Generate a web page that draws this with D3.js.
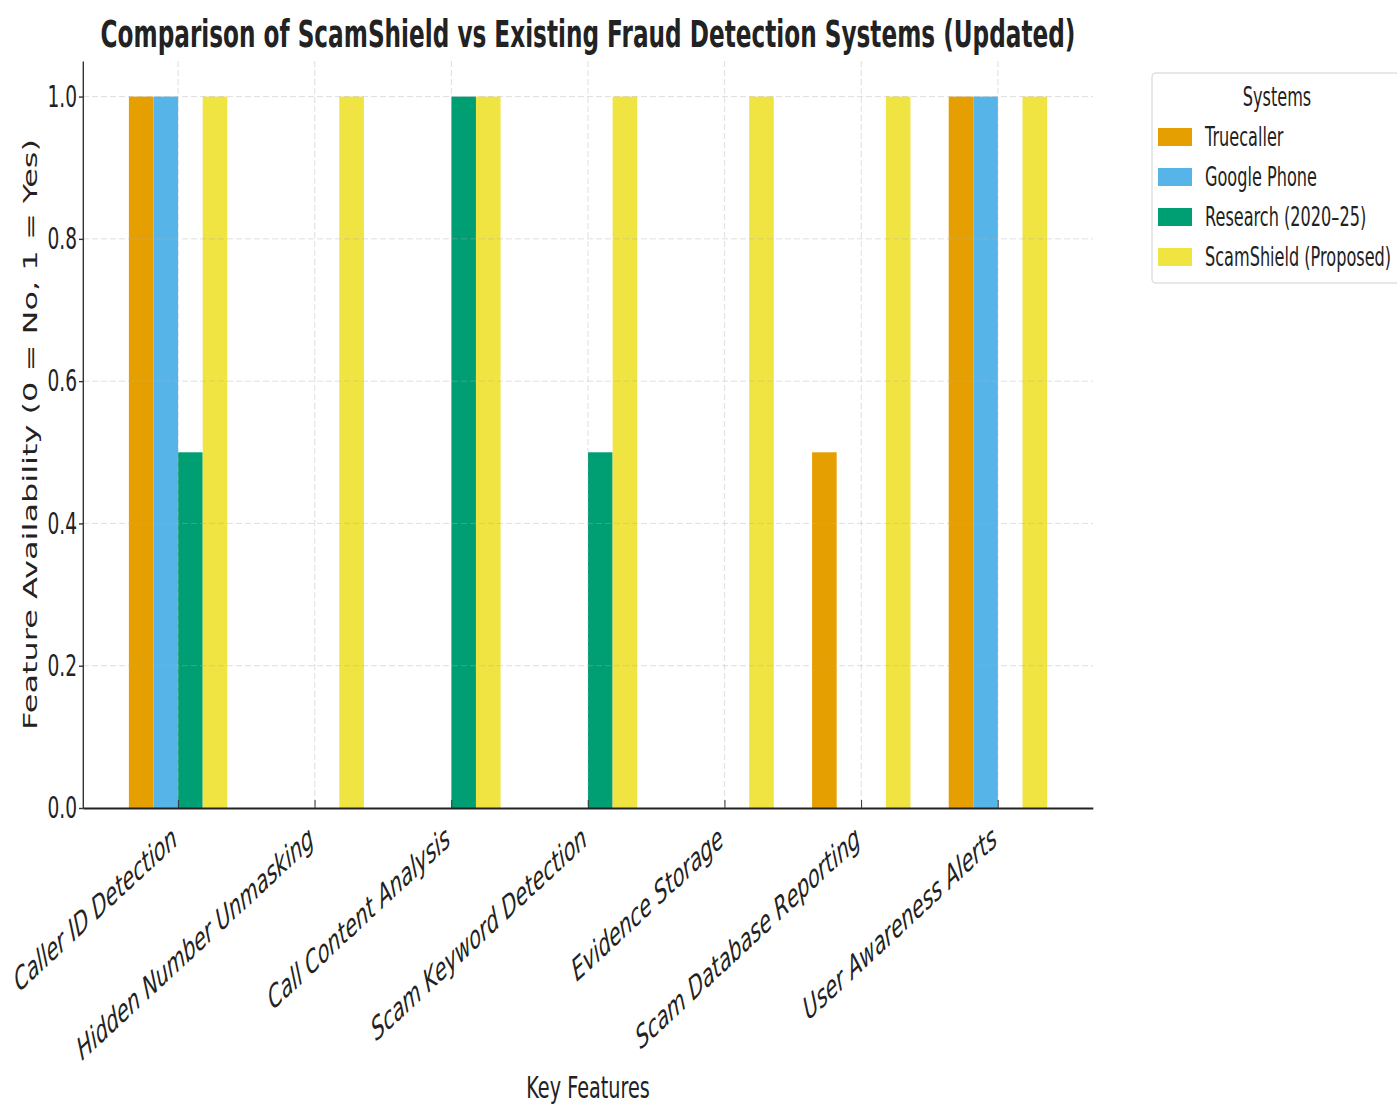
<!DOCTYPE html>
<html>
<head>
<meta charset="utf-8">
<script src="https://cdn.jsdelivr.net/npm/d3@7"></script>
<style>
  body { margin: 0; background: #fff; }
  svg text { font-family: "DejaVu Sans", sans-serif; fill: #222; }
</style>
</head>
<body>
<div id="chart"></div>
<script>
// Data
const features = [
    "Caller ID Detection",
    "Hidden Number Unmasking",
    "Call Content Analysis",
    "Scam Keyword Detection",
    "Evidence Storage",
    "Scam Database Reporting",
    "User Awareness Alerts"
];
const systems = ["Truecaller", "Google Phone", "Research (2020–25)", "ScamShield (Proposed)"];
const colors = ["#E69F00", "#56B4E9", "#009E73", "#F0E442"];

const truecaller  = [1, 0, 0, 0, 0, 0.5, 1];
const googlePhone = [1, 0, 0, 0, 0, 0, 1];
const research    = [0.5, 0, 1, 0.5, 0, 0, 0];
const scamShield  = [1, 1, 1, 1, 1, 1, 1];
const series = [truecaller, googlePhone, research, scamShield];

const yTicks = [0, 0.2, 0.4, 0.6, 0.8, 1.0];

// The reference is squeezed horizontally, so everything is drawn
// in a wider frame and scaled down in x
const W = 1397, H = 1106;
const sx = 0.62;
const vx = px => px / sx;

const plotLeft = 83, plotRight = 1093, plotTop = 61, plotBottom = 808;
const barW = 0.18;
const n = features.length;
const span = (n - 1) + 4 * barW;
const pad = 0.05 * span;

const x = d3.scaleLinear()
    .domain([-2 * barW - pad, (n - 1) + 2 * barW + pad])
    .range([vx(plotLeft), vx(plotRight)]);

const y = d3.scaleLinear()
    .domain([0, 1.05])
    .range([plotBottom, plotTop]);

const svg = d3.select("#chart")
    .append("svg")
    .attr("width", W)
    .attr("height", H);

svg.append("rect").attr("width", W).attr("height", H).attr("fill", "#fff");

const g = svg.append("g").attr("transform", `scale(${sx}, 1)`);

// bars
series.forEach((vals, k) => {
    g.append("g")
        .selectAll("rect")
        .data(vals)
        .join("rect")
            .attr("x", (d, i) => x(i + (k - 2) * barW))
            .attr("width", x(barW) - x(0))
            .attr("y", d => y(d))
            .attr("height", d => y(0) - y(d))
            .attr("fill", colors[k]);
});

// grid (drawn above bars, faint)
const grid = g.append("g")
    .attr("stroke", "#b0b0b0")
    .attr("stroke-opacity", 0.4)
    .attr("stroke-dasharray", "6,3");

grid.selectAll(".hg")
    .data(yTicks.slice(1))
    .join("line")
        .attr("x1", vx(plotLeft)).attr("x2", vx(plotRight))
        .attr("y1", d => y(d)).attr("y2", d => y(d))
        .attr("vector-effect", "non-scaling-stroke");

grid.selectAll(".vg")
    .data(d3.range(n))
    .join("line")
        .attr("x1", d => x(d)).attr("x2", d => x(d))
        .attr("y1", plotTop).attr("y2", plotBottom)
        .attr("vector-effect", "non-scaling-stroke");

// y axis
const yAxis = g.append("g")
    .attr("transform", `translate(${vx(plotLeft)}, 0)`)
    .call(d3.axisLeft(y)
        .tickValues(yTicks)
        .tickFormat(d3.format(".1f"))
        .tickSizeInner(vx(4))
        .tickSizeOuter(0)
        .tickPadding(vx(2)));

yAxis.selectAll("path, line")
    .attr("stroke", "#333")
    .attr("stroke-width", 1.4)
    .attr("vector-effect", "non-scaling-stroke");
yAxis.selectAll("text")
    .attr("font-family", "DejaVu Sans")
    .attr("font-size", 30)
    .attr("fill", "#333");

// x axis
const xAxis = g.append("g")
    .attr("transform", `translate(0, ${plotBottom})`)
    .call(d3.axisBottom(x)
        .tickValues(d3.range(n))
        .tickFormat(i => features[i])
        .tickSizeInner(-8)
        .tickSizeOuter(0));

xAxis.select(".domain")
    .attr("stroke", "#222")
    .attr("stroke-width", 2);
xAxis.selectAll(".tick line")
    .attr("stroke", "#333")
    .attr("vector-effect", "non-scaling-stroke");
xAxis.selectAll("text")
    .attr("font-family", "DejaVu Sans")
    .attr("font-style", "italic")
    .attr("font-size", 31.5)
    .attr("fill", "#333")
    .attr("text-anchor", "end")
    .attr("x", 0)
    .attr("y", 0)
    .attr("dy", 0)
    .attr("transform", "translate(0, 36) rotate(-30)");

// axis titles
g.append("text")
    .attr("x", (x.range()[0] + x.range()[1]) / 2)
    .attr("y", 1098)
    .attr("text-anchor", "middle")
    .attr("font-size", 31)
    .text("Key Features");

g.append("text")
    .attr("transform", `translate(${vx(37)}, ${(plotTop + plotBottom) / 2}) rotate(-90)`)
    .attr("text-anchor", "middle")
    .attr("font-size", 32)
    .text("Feature Availability (0 = No, 1 = Yes)");

g.append("text")
    .attr("x", (x.range()[0] + x.range()[1]) / 2)
    .attr("y", 47)
    .attr("text-anchor", "middle")
    .attr("font-size", 37.4)
    .attr("font-weight", "bold")
    .text("Comparison of ScamShield vs Existing Fraud Detection Systems (Updated)");

// legend
const legend = g.append("g");
legend.append("rect")
    .attr("x", vx(1152)).attr("y", 73)
    .attr("width", vx(1402) - vx(1152)).attr("height", 210)
    .attr("rx", vx(4)).attr("ry", 4)
    .attr("fill", "#fff")
    .attr("stroke", "#d0d0d0")
    .attr("vector-effect", "non-scaling-stroke");

legend.append("text")
    .attr("x", vx(1277)).attr("y", 106)
    .attr("text-anchor", "middle")
    .attr("font-size", 26)
    .text("Systems");

const rows = legend.selectAll(".row")
    .data(systems)
    .join("g")
        .attr("transform", (d, i) => `translate(0, ${137 + i * 40})`);

rows.append("rect")
    .attr("x", vx(1158)).attr("y", -9)
    .attr("width", vx(1192) - vx(1158)).attr("height", 18)
    .attr("fill", (d, i) => colors[i]);

rows.append("text")
    .attr("x", vx(1205)).attr("y", 9)
    .attr("font-size", 26)
    .text(d => d);
</script>
</body>
</html>
